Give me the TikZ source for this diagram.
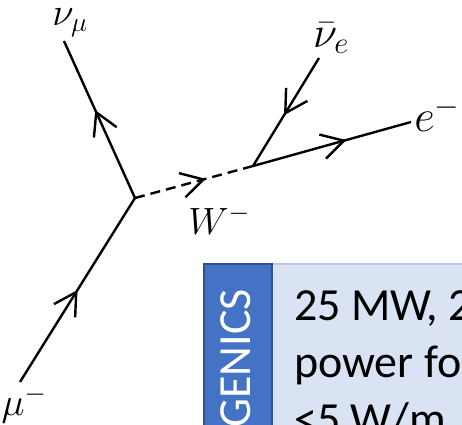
\RequirePackage{fix-cm}
\documentclass[tikz,border=0pt]{standalone}
\usepackage{fontspec}
\setmainfont{Carlito}
\usetikzlibrary{arrows.meta,positioning,decorations.markings}
\definecolor{darkblue}{HTML}{4472C4}
\definecolor{navy}{HTML}{2F528F}
\definecolor{paleblue}{HTML}{DAE3F3}
\definecolor{edgeblue}{HTML}{B4C7E7}

\begin{document}
\begin{tikzpicture}[x=1pt,y=-1pt,line width=2.4pt,
 fermion/.style={postaction={decorate},decoration={markings,mark=at position #1 with {\arrow{Straight Barb[length=22pt,width=25pt]}}}},
 boson/.style={dash pattern=on 10pt off 6pt,fermion=#1},
 lab/.style={inner sep=0pt,font=\fontsize{#1}{#1}\selectfont}]
\clip (0,0) rectangle (462,424);
\coordinate (v1) at (135,198);
\coordinate (v2) at (253,166);
\coordinate (numu) at (64,41);
\coordinate (mu) at (20,382);
\coordinate (nue) at (319,58);
\coordinate (el) at (411,122);
\draw[fermion=0.5] (mu) -- (v1);
\draw[fermion=0.56] (v1) -- (numu);
\draw[boson=0.6] (v1) -- (v2);
\draw[fermion=0.53] (nue) -- (v2);
\draw[fermion=0.59] (v2) -- (el);
\node[lab=39] (numulab) at (70,23) {$\nu_\mu$};
\node[lab=44] (nuelab) at (331,38) {$\bar\nu_e$};
\node[lab=45] (ellab) at (437,114) {$e^-$};
\node[lab=38] (wlab) at (219,220) {$W^-$};
\node[lab=39] (mulab) at (24,404) {$\mu^-$};
\draw[edgeblue,fill=paleblue,line width=1.5pt] (272,264) rectangle (480,440);
\draw[navy,fill=darkblue,line width=2pt] (204,264) rectangle (272,440);
\node[rotate=90,anchor=base east,inner sep=0pt,text=white,font=\fontsize{46}{46}\selectfont] (title) at (250,288) {GENICS};
\node[anchor=north west,align=left,inner sep=0pt,font=\fontsize{46}{57}\selectfont] (spec) at (293,289) {25 MW, 2\\power fo\\<5 W/m};
\end{tikzpicture}
\end{document}
